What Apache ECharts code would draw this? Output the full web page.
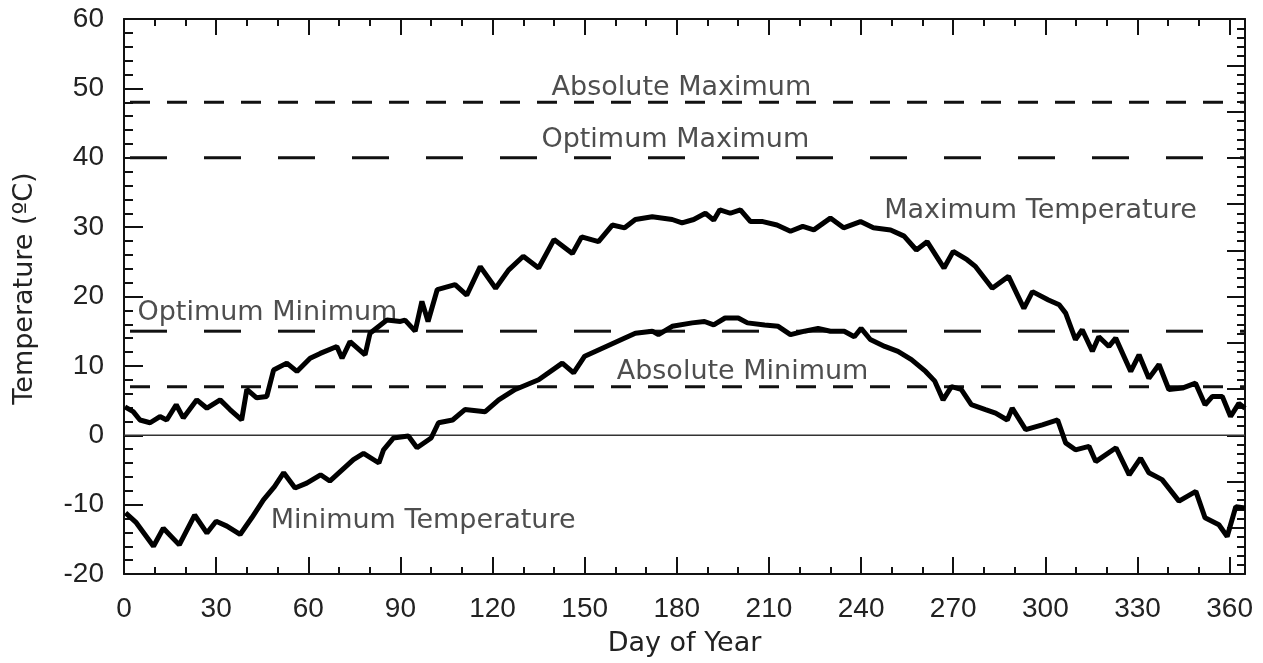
<!DOCTYPE html>
<html>
<head>
<meta charset="utf-8">
<script src="https://cdn.jsdelivr.net/npm/echarts@6/dist/echarts.min.js"></script>
<style>
html,body{margin:0;padding:0;background:#fff;}
#chart{width:1263px;height:663px;}
</style>
</head>
<body>
<div id="chart"></div>
<script>
// ---- data ----
const xTicks = [0, 30, 60, 90, 120, 150, 180, 210, 240, 270, 300, 330, 360];
const yTicks = [-20, -10, 0, 10, 20, 30, 40, 50, 60];

const maxTemp = [
  [0.3,4.1],[3,3.4],[5.2,2.2],[8.5,1.8],[11.7,2.7],[13.9,2.2],[17,4.4],[19.3,2.5],[23.7,5.1],[27,3.9],
  [31.3,5.1],[34.5,3.7],[38.3,2.2],[40,6.6],[43.2,5.4],[46.5,5.6],[48.7,9.4],[53,10.4],[56.3,9.2],[60.6,11.1],
  [63.9,11.8],[69.3,12.8],[71,11.1],[73.6,13.5],[78.5,11.6],[80.1,14.7],[85.6,16.6],[90,16.4],[91.5,16.6],[94.8,15.0],
  [97,19.3],[99,16.4],[102,21.0],[107.8,21.7],[111.6,20.2],[116,24.3],[121,21.2],[125.2,23.8],[130,25.8],[135,24.1],
  [140,28.2],[146,26.2],[149,28.6],[154.5,27.9],[159,30.3],[163,29.9],[166.5,31.1],[172,31.5],[178.5,31.1],[181.7,30.6],
  [185.5,31.1],[189.3,32.0],[192,31.0],[194,32.5],[197.4,32.0],[200.7,32.5],[204,30.8],[208,30.8],[212.6,30.3],[217,29.4],
  [221,30.1],[224.6,29.6],[230,31.3],[234.3,29.9],[239.8,30.8],[244,29.9],[249.6,29.6],[254,28.7],[258,26.7],[261.5,27.9],
  [267,24.1],[270,26.5],[274.5,25.3],[277.3,24.3],[282.7,21.2],[288,22.9],[293,18.3],[295.8,20.7],[301,19.5],[304.5,18.8],
  [306.6,17.6],[309.8,13.8],[312,15.2],[315.3,12.1],[317.4,14.2],[320.7,12.8],[322.9,14.0],[327.8,9.2],[330.5,11.6],[333.7,8.2],
  [337,10.2],[340.2,6.6],[344.6,6.8],[348.9,7.5],[352,4.4],[354.4,5.6],[357.6,5.6],[360.3,2.7],[363,4.6],[365,3.9]
];

const minTemp = [
  [0.5,-11.2],[4,-12.6],[9.6,-16.0],[12.8,-13.4],[18,-15.8],[23,-11.5],[27,-14.1],[30,-12.4],[33.5,-13.1],[37.8,-14.3],
  [41.6,-11.9],[45.4,-9.3],[49,-7.4],[52,-5.4],[55.7,-7.6],[59.5,-6.9],[64,-5.7],[67,-6.6],[74.7,-3.5],[78,-2.6],
  [83,-4.0],[84.5,-2.1],[87.7,-0.4],[92.6,-0.1],[95.4,-1.8],[100,-0.4],[102.4,1.8],[107,2.2],[111,3.7],[117.6,3.4],
  [122,5.1],[127.4,6.6],[135,8.0],[142.7,10.4],[146.4,9.0],[150,11.4],[157,12.8],[162,13.8],[166.5,14.7],[172,15.0],
  [174,14.5],[178.5,15.7],[185,16.2],[189,16.4],[192,15.9],[195.7,16.9],[200,16.9],[203,16.2],[208.6,15.9],[213,15.7],
  [217,14.5],[221.6,15.0],[226,15.4],[230,15.0],[234.5,15.0],[237.8,14.2],[240,15.4],[243,13.8],[247.7,12.8],[252,12.1],
  [256.4,10.9],[261,9.2],[264,7.8],[266.7,5.1],[269.4,7.0],[272.6,6.6],[275.9,4.4],[280.5,3.7],[283.8,3.2],[287.6,2.2],
  [289.2,3.9],[293.6,0.8],[299,1.5],[304,2.2],[306.6,-1.1],[309.8,-2.1],[314.2,-1.6],[316.4,-3.8],[323,-1.8],[327.3,-5.7],
  [331,-3.3],[333.7,-5.4],[338,-6.4],[343.5,-9.5],[349,-8.1],[352,-11.9],[356.5,-12.9],[359.2,-14.6],[362,-10.3],[365,-10.5]
];

const thresholdNames  = ['Absolute Maximum', 'Optimum Maximum', 'Optimum Minimum', 'Absolute Minimum'];
const thresholdValues = [48, 40, 15, 7];
const dayRange = [0, 365];
const curveNames = ['Maximum Temperature', 'Minimum Temperature'];

// ---- layout / style ----
const FONT_TICK = 'Liberation Sans';
const FONT_TEXT = 'DejaVu Sans';
const dashFor = { 'Absolute Maximum':[20,17], 'Optimum Maximum':[37,37], 'Optimum Minimum':[37,37], 'Absolute Minimum':[20,17] };
// label anchors (day, temperature) for the in-plot annotations
const labelAnchor = {
  'Absolute Maximum':[181.5, 50.1],
  'Optimum Maximum':[179.5, 42.6],
  'Optimum Minimum':[46.7, 17.6],
  'Absolute Minimum':[201.4, 9.1],
  'Maximum Temperature':[298.4, 32.3],
  'Minimum Temperature':[97.4, -12.3]
};

const chart = echarts.init(document.getElementById('chart'), null, {renderer:'canvas'});

const axisCommon = {
  type:'value',
  axisLine:{show:true, onZero:false, lineStyle:{color:'#111', width:2}},
  splitLine:{show:false}
};

const series = [];
thresholdNames.forEach((n, i) => {
  series.push({
    type:'line', name:n, silent:true, symbol:'none', animation:false,
    data: dayRange.map(d => [d, thresholdValues[i]]),
    lineStyle:{color:'#111', width:3, type:dashFor[n], dashOffset:-6}
  });
});
series.push({
  type:'line', name:'zero', silent:true, symbol:'none', animation:false,
  data: dayRange.map(d => [d, 0]),
  lineStyle:{color:'#333', width:1.5}
});
series.push({
  type:'line', name:curveNames[0], symbol:'none', animation:false,
  data:maxTemp, lineStyle:{color:'#000', width:5}
});
series.push({
  type:'line', name:curveNames[1], symbol:'none', animation:false,
  data:minTemp, lineStyle:{color:'#000', width:5}
});
const annNames = thresholdNames.concat(curveNames);
series.push({
  type:'scatter', silent:true, animation:false, symbolSize:0,
  data: annNames.map(n => ({value:labelAnchor[n], name:n})),
  label:{show:true, position:'inside', formatter:p => p.name,
         fontFamily:FONT_TEXT, fontSize:27, color:'#222'}
});

chart.setOption({
  backgroundColor:'#fff',
  animation:false,
  grid:{left:124, right:18, top:19, bottom:89, containLabel:false},
  xAxis:[
    Object.assign({}, axisCommon, {
      position:'bottom', min:0, max:365, interval:30,
      name:'Day of Year', nameLocation:'middle', nameGap:56,
      nameTextStyle:{fontFamily:FONT_TEXT, fontSize:27, color:'#222'},
      axisTick:{show:true, inside:true, length:17, lineStyle:{color:'#111', width:2}},
      minorTick:{show:true, splitNumber:3, length:7, lineStyle:{color:'#111', width:2}},
      axisLabel:{fontFamily:FONT_TICK, fontSize:28, color:'#222', margin:21, showMaxLabel:false,
                 formatter:v => xTicks.indexOf(v) >= 0 ? String(v) : ''}
    }),
    Object.assign({}, axisCommon, {
      position:'top', min:0, max:365, interval:30,
      axisTick:{show:true, inside:true, length:16, lineStyle:{color:'#111', width:2}},
      minorTick:{show:true, splitNumber:3, length:7, lineStyle:{color:'#111', width:2}},
      axisLabel:{show:false}
    })
  ],
  yAxis:[
    Object.assign({}, axisCommon, {
      position:'left', min:-20, max:60, interval:10,
      name:'Temperature (ºC)', nameLocation:'middle', nameGap:86, nameRotate:90,
      nameTextStyle:{fontFamily:FONT_TEXT, fontSize:27, color:'#222', padding:[0,0,0,16]},
      axisTick:{show:true, inside:true, length:19, lineStyle:{color:'#111', width:2}},
      minorTick:{show:true, splitNumber:5, length:9, lineStyle:{color:'#111', width:2}},
      axisLabel:{fontFamily:FONT_TICK, fontSize:28, color:'#222', margin:20,
                 formatter:v => yTicks.indexOf(v) >= 0 ? String(v) : ''}
    }),
    Object.assign({}, axisCommon, {
      position:'right', min:0, max:144, interval:12,
      axisTick:{show:true, inside:true, length:18, lineStyle:{color:'#111', width:2}},
      minorTick:{show:true, splitNumber:5, length:8, lineStyle:{color:'#111', width:2}},
      axisLabel:{show:false}
    })
  ],
  series: series
});
</script>
</body>
</html>
